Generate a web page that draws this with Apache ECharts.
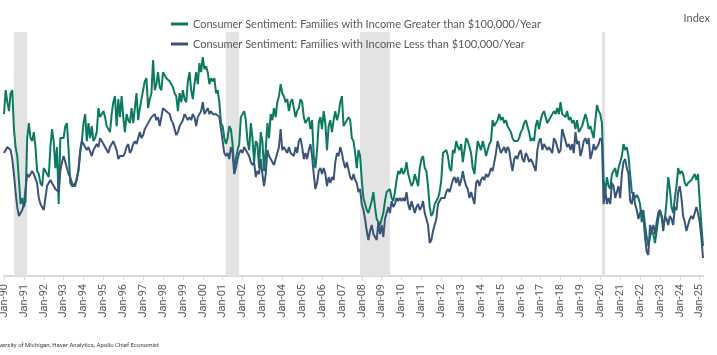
<!DOCTYPE html>
<html><head><meta charset="utf-8">
<script src="https://cdn.jsdelivr.net/npm/echarts@6/dist/echarts.min.js"></script>
<style>html,body{margin:0;padding:0;background:#fff}#c{width:717px;height:355px}</style>
</head><body><div id="c"></div>
<script>
// Monthly, Jan-1990 .. Mar-2025
const startYear = 1990;
const monthCount = 423;
const monthNames = ['Jan','Feb','Mar','Apr','May','Jun','Jul','Aug','Sep','Oct','Nov','Dec'];
const categories = [];
for (let i = 0; i < monthCount; i++) {
  const y = startYear + Math.floor(i / 12);
  categories.push(monthNames[i % 12] + '-' + String(y % 100).padStart(2, '0'));
}

const seriesNames = [
  'Consumer Sentiment: Families with Income Greater than $100,000/Year',
  'Consumer Sentiment: Families with Income Less than $100,000/Year'
];

const highIncome = [
  94,102,98,95,101,102,89,83,80,72, 64,66,63,65,86,91,86,85,88,83,
  75,74,71,70,76,75,74,73,83,89, 85,76,83,64,86,86,86,90,91,82,
  71,70,70,70,73,75,81,85,91,94, 85,91,86,90,85,86,88,96,93,94,
  95,93,90,89,88,94,98,100,90,99, 93,100,93,88,94,92,91,96,91,96,
  101,92,96,99,102,105,106,96,99,101, 112,102,104,108,103,102,108,107,106,106,
  105,104,103,101,100,95,101,
  98,102,99,98,105,108,102,99,104,108, 104,111,108,113,109,110,108,104,106,105,
  106,101,102,98,91,90,86,84,86,90, 89,84,76,79,82,84,93,94,95,92,
  85,82,91,86,78,85,84,76,88,85, 75,82,91,86,94,92,96,93,98,100,
  104,101,100,98,99,95,98,99,96,93, 95,96,99,98,93,91,92,93,89,92,
  80,76,82,91,93,89,95,91,82,90, 92,88,92,95,92,94,98,100,90,91,
  92,
  93,92,86,85,81,76,82,80,72,66, 64,62,61,63,65,68,63,59,58,57,
  59,61,65,68,68,69,66,65,68,72, 75,74,76,74,75,78,74,72,70,71,
  74,72,70,76,79,80,76,75,70,63, 60,61,64,65,66,68,72,81,81,82,
  80,76,75,82,81,85,83,82,84,78, 82,86,85,83,81,76,74,80,85,85,
  82,85,83,80,82,84,85,92,90,91, 92,94,92,93,91,92,90,89,88,86,
  85,85,85,86,88,89,91,92,
  92,88,85,86,85,90,92,89,92,94, 95,93,91,92,93,94,95,94,96,94,
  98,94,94,93,95,92,93,91,92,89, 92,88,89,90,92,94,92,89,90,88,
  86,92,97,95,94,91,72,68,73,70, 69,74,75,76,73,76,78,80,84,82,
  83,80,74,68,68,66,67,66,64,58, 62,57,53,50,53,55,54,51,55,59,
  62,60,57,59,65,73,69,63,61,66, 70,76,74,75,74,71,70,71,71,72,
  73,74,72,74,65,57,50
];

const lowIncome = [
  81,81,83,83,82,79,74,68,63,60, 61,62,64,69,74,73,73,75,74,74,
  71,66,64,63,62,66,70,71,72,72, 70,69,69,68,75,78,80,78,76,74,
  73,71,70,71,72,76,82,85,84,83, 82,83,83,80,82,83,84,83,86,86,
  84,83,82,81,83,83,85,85,82,79, 80,80,80,81,83,84,81,82,84,85,
  84,86,88,86,87,89,90,91,92,93, 93,94,92,93,90,93,96,96,95,95,
  94,92,91,89,87,88,90,
  90,92,94,93,92,93,92,94,93,90, 93,94,95,98,94,95,96,94,95,94,
  94,94,94,93,89,85,81,80,81,79, 83,81,74,76,79,81,82,81,83,82,
  82,80,78,77,78,73,75,74,79,74, 70,74,82,80,79,78,77,79,81,83,
  89,82,83,82,81,83,81,81,80,83, 81,85,86,83,79,81,79,82,84,80,
  74,69,71,75,76,74,76,74,70,73, 71,73,72,78,81,80,83,81,78,76,
  78,
  78,73,72,74,72,71,68,69,64,62, 59,55,52,55,57,54,53,52,58,54,
  57,53,59,61,63,61,65,63,64,66, 65,66,65,66,65,68,64,62,65,63,
  61,63,64,62,63,65,61,59,57,51, 52,55,57,59,64,65,66,66,66,68,
  69,68,70,72,73,71,73,70,72,75, 72,70,69,66,68,66,64,71,72,70,
  72,73,72,74,73,74,76,75,78,81, 85,83,81,82,83,81,83,82,78,75,
  79,80,79,81,82,79,78,81,
  80,78,79,78,78,75,82,85,86,82, 84,83,82,83,82,81,86,85,83,81,
  82,89,87,85,83,84,82,84,81,88, 84,85,80,82,85,86,84,86,79,81,
  84,82,83,84,86,85,64,69,64,66, 64,71,70,66,68,70,66,74,78,79,
  76,74,65,64,68,64,62,59,61,62, 60,53,48,47,57,55,57,54,58,61,
  62,60,55,60,59,57,60,59,57,63, 62,68,70,66,60,58,55,57,59,60,
  59,61,63,61,58,53,46
];

// NBER recessions (shaded)
const recessionStarts = ['Jul-90','Mar-01','Dec-07','Feb-20'];
const recessionEnds   = ['Mar-91','Nov-01','Jun-09','Apr-20'];

const unitLabel = 'Index';
const sourceText = 'Source: University of Michigan, Haver Analytics, Apollo Chief Economist';

const FONT = 'Roboto, "Liberation Sans", sans-serif';
const LFONT = 'Lato, Roboto, sans-serif';
const chart = echarts.init(document.getElementById('c'), null, {renderer: 'canvas'});
const yearTick = (idx) => idx % 12 === 0;

chart.setOption({
  animation: false,
  backgroundColor: '#ffffff',
  grid: {left: 4, right: 14, top: 32, bottom: 79, containLabel: false, outerBoundsMode: 'none'},
  legend: {
    orient: 'vertical', left: 166, top: 12, itemGap: 6,
    itemWidth: 17, itemHeight: 3, icon: 'rect',
    textStyle: {color: '#595959', fontSize: 11, fontFamily: LFONT, lineHeight: 14},
    data: seriesNames
  },
  xAxis: {
    type: 'category', data: categories, boundaryGap: false,
    axisLine: {lineStyle: {color: '#d9d9d9', width: 2}},
    axisTick: {interval: yearTick, length: 4, lineStyle: {color: '#d9d9d9'}},
    axisLabel: {interval: yearTick, rotate: 90, margin: 8, color: '#595959', fontSize: 11, fontFamily: FONT}
  },
  yAxis: {
    type: 'value', min: 40, max: 121.4,
    axisLine: {show: false}, axisTick: {show: false}, axisLabel: {show: false}, splitLine: {show: false}
  },
  graphic: [
    {type: 'text', right: 7, top: 13, style: {text: unitLabel, fill: '#595959', font: '11px ' + LFONT}},
    {type: 'text', left: -31, top: 342, style: {text: sourceText, fill: '#404040', font: '6px ' + FONT}}
  ],
  series: [
    {
      name: seriesNames[0], type: 'line', data: highIncome, symbol: 'none',
      lineStyle: {color: '#0b7a60', width: 2}, itemStyle: {color: '#0b7a60'},
      markArea: {
        silent: true, itemStyle: {color: '#e3e3e3'},
        data: recessionStarts.map((s, i) => [{xAxis: s}, {xAxis: recessionEnds[i]}])
      }
    },
    {
      name: seriesNames[1], type: 'line', data: lowIncome, symbol: 'none',
      lineStyle: {color: '#3b5479', width: 2}, itemStyle: {color: '#3b5479'}
    }
  ]
});
</script></body></html>
